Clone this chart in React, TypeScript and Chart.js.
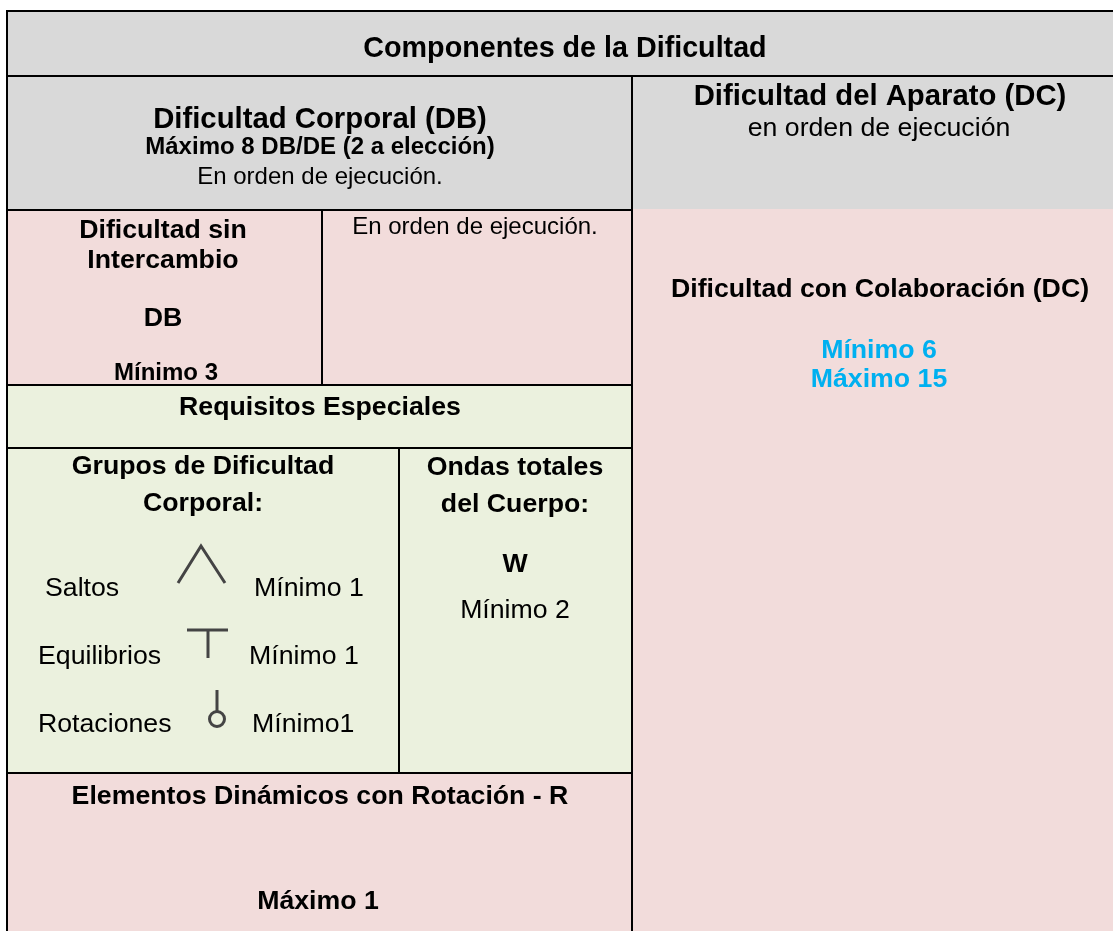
import React, { useEffect, useRef } from "react";
import { Chart, registerables } from "chart.js";

Chart.register(...registerables);

const GREY = "#d9d9d9";
const PINK = "#f2dcdb";
const GREEN = "#ebf1de";
const BLUE = "#00b0f0";
const INK = "#000000";
const FONT = '"Liberation Sans", Arial, sans-serif';

// table cells: [left, right, top, bottom, fill]
const cells: [number, number, number, number, string][] = [
  [7, 1113, 11, 76, GREY],
  [7, 632, 76, 210, GREY],
  [632, 1113, 76, 209, GREY],
  [7, 632, 210, 385, PINK],
  [632, 1113, 209, 931, PINK],
  [7, 632, 385, 773, GREEN],
  [7, 632, 773, 931, PINK],
];

// table rules: [x1, y1, x2, y2, width]
const rules: [number, number, number, number, number][] = [
  [6, 11, 1113, 11, 2],
  [7, 11, 7, 931, 2],
  [7, 76, 1113, 76, 2],
  [7, 210, 632, 210, 2],
  [632, 76, 632, 931, 2],
  [322, 210, 322, 385, 2],
  [7, 385, 632, 385, 2],
  [7, 448, 632, 448, 2],
  [399, 448, 399, 773, 2],
  [7, 773, 632, 773, 2],
];

// icon strokes
const jumpIcon = [{ x: 178, y: 583 }, { x: 201, y: 546 }, { x: 225, y: 583 }];
const balanceBar = [{ x: 187, y: 630 }, { x: 228, y: 630 }];
const balanceStem = [{ x: 208, y: 630 }, { x: 208, y: 658 }];
const rotationStem = [{ x: 217, y: 690 }, { x: 217, y: 711 }];
const rotationRing = [{ x: 217, y: 719 }];

// labels: [text, x, y, align, size, bold, colour]
const labels: [string, number, number, CanvasTextAlign, number, boolean, string][] = [
  ["Componentes de la Dificultad", 565, 49, "center", 28.7, true, INK],
  ["Dificultad Corporal (DB)", 320, 120, "center", 29.3, true, INK],
  ["Máximo 8 DB/DE (2 a elección)", 320, 147, "center", 24, true, INK],
  ["En orden de ejecución.", 320, 177, "center", 24, false, INK],
  ["Dificultad del Aparato (DC)", 880, 97, "center", 29.3, true, INK],
  ["en orden de ejecución", 879, 129, "center", 26.7, false, INK],
  ["Dificultad sin", 163, 231, "center", 26.7, true, INK],
  ["Intercambio", 163, 261, "center", 26.7, true, INK],
  ["DB", 163, 319, "center", 26.7, true, INK],
  ["Mínimo 3", 166, 373, "center", 24, true, INK],
  ["En orden de ejecución.", 475, 227, "center", 24, false, INK],
  ["Dificultad con Colaboración (DC)", 880, 290, "center", 26.7, true, INK],
  ["Mínimo 6", 879, 351, "center", 26.7, true, BLUE],
  ["Máximo 15", 879, 380, "center", 26.7, true, BLUE],
  ["Requisitos Especiales", 320, 408, "center", 26.7, true, INK],
  ["Grupos de Dificultad", 203, 467, "center", 26.7, true, INK],
  ["Corporal:", 203, 504, "center", 26.7, true, INK],
  ["Ondas totales", 515, 468, "center", 26.7, true, INK],
  ["del Cuerpo:", 515, 505, "center", 26.7, true, INK],
  ["W", 515, 565, "center", 26.7, true, INK],
  ["Mínimo 2", 515, 611, "center", 26.7, false, INK],
  ["Saltos", 45, 589, "left", 26.7, false, INK],
  ["Mínimo 1", 254, 589, "left", 26.7, false, INK],
  ["Equilibrios", 38, 657, "left", 26.7, false, INK],
  ["Mínimo 1", 249, 657, "left", 26.7, false, INK],
  ["Rotaciones", 38, 725, "left", 26.7, false, INK],
  ["Mínimo1", 252, 725, "left", 26.7, false, INK],
  ["Elementos Dinámicos con Rotación - R", 320, 797, "center", 26.7, true, INK],
  ["Máximo 1", 318, 902, "center", 26.7, true, INK],
];

const tablePlugin = {
  id: "table",
  beforeDatasetsDraw(chart: any) {
    const { ctx, scales } = chart;
    const sx = scales.x;
    const sy = scales.y;
    ctx.save();
    for (const [l, r, t, b, fill] of cells) {
      const x0 = sx.getPixelForValue(l);
      const y0 = sy.getPixelForValue(t);
      ctx.fillStyle = fill;
      ctx.fillRect(x0, y0, sx.getPixelForValue(r) - x0, sy.getPixelForValue(b) - y0);
    }
    ctx.strokeStyle = INK;
    for (const [x1, y1, x2, y2, w] of rules) {
      ctx.lineWidth = w;
      ctx.beginPath();
      ctx.moveTo(sx.getPixelForValue(x1), sy.getPixelForValue(y1));
      ctx.lineTo(sx.getPixelForValue(x2), sy.getPixelForValue(y2));
      ctx.stroke();
    }
    ctx.restore();
  },
  afterDatasetsDraw(chart: any) {
    const { ctx, scales } = chart;
    ctx.save();
    ctx.textBaseline = "middle";
    for (const [text, x, y, align, size, bold, colour] of labels) {
      ctx.font = `${bold ? "bold " : ""}${size}px ${FONT}`;
      ctx.textAlign = align;
      ctx.fillStyle = colour;
      ctx.fillText(text, scales.x.getPixelForValue(x), scales.y.getPixelForValue(y));
    }
    ctx.restore();
  },
};

const iconLine = (data: { x: number; y: number }[]) => ({
  data,
  showLine: true,
  borderColor: "#444444",
  borderWidth: 3,
  pointRadius: 0,
  tension: 0,
});

export default function App() {
  const ref = useRef<HTMLCanvasElement>(null);
  useEffect(() => {
    document.body.style.margin = "0";
    document.body.style.background = "#ffffff";
    const chart = new Chart(ref.current!, {
      type: "scatter",
      data: {
        datasets: [
          iconLine(jumpIcon),
          iconLine(balanceBar),
          iconLine(balanceStem),
          iconLine(rotationStem),
          {
            data: rotationRing,
            showLine: false,
            pointStyle: "circle",
            pointRadius: 7.5,
            pointBorderWidth: 3,
            pointBorderColor: "#444444",
            pointBackgroundColor: "rgba(0,0,0,0)",
          },
        ],
      },
      options: {
        responsive: false,
        animation: false,
        layout: { padding: 0, autoPadding: false },
        plugins: { legend: { display: false }, title: { display: false }, tooltip: { enabled: false } },
        scales: {
          x: { type: "linear", min: 0, max: 1113, display: false },
          y: { type: "linear", min: 0, max: 931, reverse: true, display: false },
        },
      },
      plugins: [tablePlugin],
    });
    return () => chart.destroy();
  }, []);
  return <canvas ref={ref} width={1113} height={931} style={{ display: "block" }} />;
}
